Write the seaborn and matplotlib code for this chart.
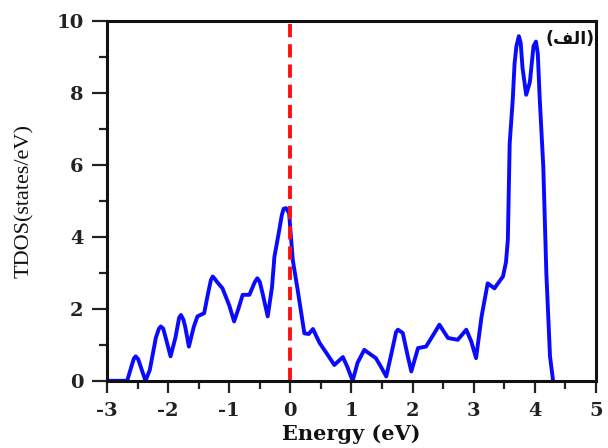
import matplotlib
matplotlib.use("Agg")
import matplotlib.pyplot as plt
import seaborn as sns
import pandas as pd
from matplotlib.ticker import MultipleLocator

energy = [-3.0, -2.67, -2.6, -2.56, -2.53, -2.49, -2.45, -2.37, -2.3, -2.2, -2.15, -2.12,
          -2.08, -2.04, -1.96, -1.88, -1.82, -1.79, -1.75, -1.72, -1.66, -1.58, -1.52,
          -1.41, -1.35, -1.30, -1.27, -1.23, -1.2, -1.11, -1.0, -0.92, -0.85, -0.78, -0.67,
          -0.58, -0.54, -0.50, -0.45, -0.37, -0.3, -0.26, -0.18, -0.14, -0.11, -0.07, -0.02,
          0.04, 0.12, 0.23, 0.30, 0.37, 0.48, 0.6, 0.72, 0.86, 0.93, 1.02, 1.1, 1.21, 1.3,
          1.40, 1.48, 1.57, 1.66, 1.73, 1.76, 1.84, 1.92, 1.98, 2.09, 2.22, 2.33, 2.44,
          2.58, 2.74, 2.88, 2.96, 3.04, 3.13, 3.23, 3.34, 3.48, 3.53, 3.56, 3.59, 3.64,
          3.67, 3.70, 3.74, 3.77, 3.8, 3.86, 3.92, 3.98, 4.02, 4.05, 4.08, 4.14, 4.19,
          4.25, 4.30]
tdos = [0, 0, 0.4, 0.62, 0.68, 0.6, 0.4, 0, 0.3, 1.2, 1.45, 1.51,
        1.45, 1.2, 0.68, 1.2, 1.75, 1.83, 1.7, 1.5, 0.95, 1.5, 1.79,
        1.88, 2.4, 2.8, 2.90, 2.82, 2.75, 2.57, 2.1, 1.65, 2.0, 2.39, 2.39,
        2.75, 2.85, 2.75, 2.4, 1.79, 2.6, 3.45, 4.2, 4.6, 4.78, 4.8, 4.66,
        3.36, 2.53, 1.32, 1.3, 1.44, 1.05, 0.75, 0.44, 0.66, 0.4, 0, 0.5, 0.86, 0.75,
        0.63, 0.4, 0.12, 0.8, 1.35, 1.42, 1.33, 0.7, 0.26, 0.91, 0.95, 1.25, 1.56,
        1.19, 1.14, 1.42, 1.1, 0.63, 1.79, 2.71, 2.57, 2.90, 3.3, 3.92, 6.6, 7.81,
        8.82, 9.3, 9.58, 9.4, 8.7, 7.95, 8.3, 9.3, 9.43, 9.1, 7.90, 5.95, 2.99,
        0.68, 0]

fermi_x = [0, 0]
fermi_y = [0, 10]

x_ticks = [-3, -2, -1, 0, 1, 2, 3, 4, 5]
y_ticks = [0, 2, 4, 6, 8, 10]

sns.set_style("ticks")
plt.rcParams['font.family'] = ['DejaVu Serif', 'DejaVu Sans']
plt.rcParams['axes.unicode_minus'] = False

fig = plt.figure(figsize=(6.08, 4.48), dpi=100)
ax = fig.add_axes([0.176, 0.150, 0.804, 0.803])

df = pd.DataFrame({"E": energy, "TDOS": tdos})
sns.lineplot(data=df, x="E", y="TDOS", ax=ax, color="#0a0aff", linewidth=2.8,
             sort=False, estimator=None)
ax.plot(fermi_x, fermi_y, color="#ff1010", linewidth=2.8, linestyle=(0, (3.4, 1.8)))

ax.set_xlim(-3, 5)
ax.set_ylim(0, 10)
ax.set_xticks(x_ticks)
ax.set_yticks(y_ticks)
ax.xaxis.set_minor_locator(MultipleLocator(0.5))
ax.yaxis.set_minor_locator(MultipleLocator(1))
ax.tick_params(axis="x", which="major", direction="out", length=8.5, width=1.6, pad=7,
               labelsize=14, colors="#222222")
ax.tick_params(axis="y", which="major", direction="out", length=11, width=1.6, pad=6,
               labelsize=14, colors="#222222")
ax.tick_params(which="minor", direction="out", length=5.5, width=1.6, colors="#222222")
for lab in ax.get_xticklabels() + ax.get_yticklabels():
    lab.set_fontweight("bold")
for s in ax.spines.values():
    s.set_linewidth(2.2)
    s.set_color("#111111")

ax.set_xlabel("Energy (eV)", fontsize=15, fontweight="bold", labelpad=3, color="#111111")
ax.set_ylabel("TDOS(states/eV)", fontsize=16, labelpad=16, color="#111111",
              family=["Liberation Serif", "DejaVu Serif"])

label = "(" + "\uFED2\uFEDF\uFE8D" + ")"
ax.text(0.997, 0.975, label, transform=ax.transAxes, ha="right", va="top",
        fontsize=12.5, fontweight="bold", family=["DejaVu Sans"], color="#111111")

fig.savefig("out.png", dpi=100)
